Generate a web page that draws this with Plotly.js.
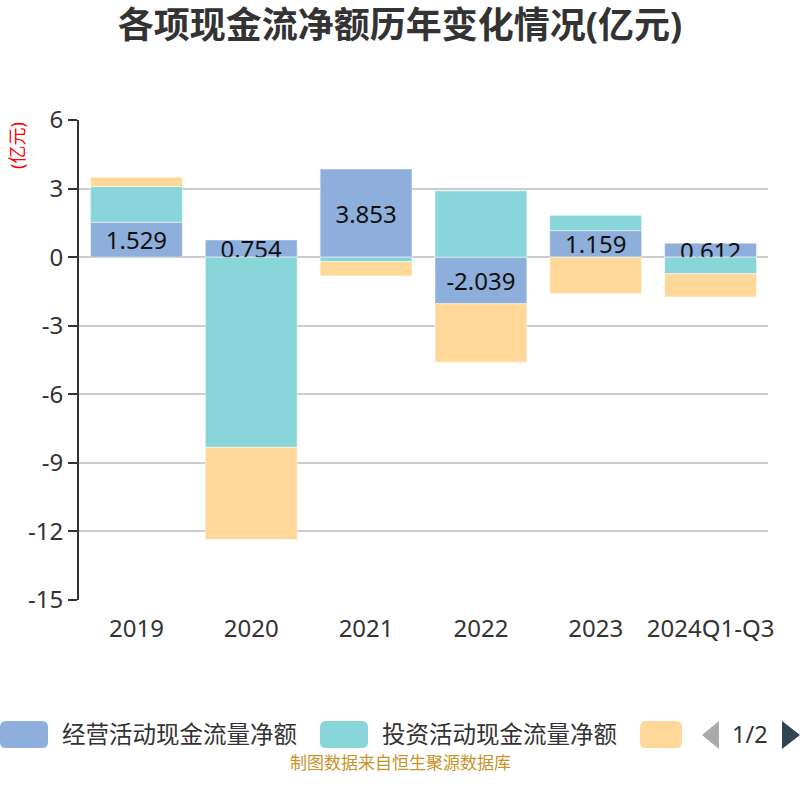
<!DOCTYPE html>
<html>
<head>
<meta charset="utf-8">
<script src="https://cdn.plot.ly/plotly-3.0.1.min.js"></script>
<style>
  html, body { margin: 0; padding: 0; background: #fff; }
  #chart { width: 800px; height: 800px; }
</style>
</head>
<body>
<div id="chart"></div>
<script>
// years on the x axis
let categories = ['2019', '2020', '2021', '2022', '2023', '2024Q1-Q3'];

// series names
let seriesNames = ['经营活动现金流量净额', '投资活动现金流量净额', '筹资活动现金流量净额'];

// net cash flow per year (亿元)
let operating = [1.529, 0.754, 3.853, -2.039, 1.159, 0.612];
let investing = [1.56, -8.32, -0.20, 2.90, 0.67, -0.73];
let financing = [0.41, -4.03, -0.62, -2.56, -1.59, -1.01];

// y axis ticks
let yTicks = [-15, -12, -9, -6, -3, 0, 3, 6];

let colors = ['#8eaedb', '#88d6d9', '#ffd899'];
let font = 'Noto Sans, Noto Sans CJK SC, sans-serif';

// plot area in pixels, used to place the hand drawn legend
let plotLeft = 79, plotRight = 768, plotTop = 120, plotBottom = 600;
function px(x) { return (x - plotLeft) / (plotRight - plotLeft); }
function py(y) { return (plotBottom - y) / (plotBottom - plotTop); }

// rounded rectangle path in paper coords, given pixel corners
function roundRect(x0, y0, x1, y1, r) {
    return 'M ' + px(x0 + r) + ' ' + py(y0) +
        ' L ' + px(x1 - r) + ' ' + py(y0) +
        ' Q ' + px(x1) + ' ' + py(y0) + ' ' + px(x1) + ' ' + py(y0 + r) +
        ' L ' + px(x1) + ' ' + py(y1 - r) +
        ' Q ' + px(x1) + ' ' + py(y1) + ' ' + px(x1 - r) + ' ' + py(y1) +
        ' L ' + px(x0 + r) + ' ' + py(y1) +
        ' Q ' + px(x0) + ' ' + py(y1) + ' ' + px(x0) + ' ' + py(y1 - r) +
        ' L ' + px(x0) + ' ' + py(y0 + r) +
        ' Q ' + px(x0) + ' ' + py(y0) + ' ' + px(x0 + r) + ' ' + py(y0) + ' Z';
}

let trace1 = {
    x: categories,
    y: operating,
    type: 'bar',
    name: seriesNames[0],
    marker: { color: colors[0], line: { color: '#ffffff', width: 0.5 } },
    text: operating.map(v => v.toFixed(3)),
    textposition: 'inside',
    insidetextanchor: 'middle',
    constraintext: 'none',
    textfont: { size: 24, color: '#111', family: font },
    hoverinfo: 'x+y+name'
};

let trace2 = {
    x: categories,
    y: investing,
    type: 'bar',
    name: seriesNames[1],
    marker: { color: colors[1], line: { color: '#ffffff', width: 0.5 } },
    hoverinfo: 'x+y+name'
};

let trace3 = {
    x: categories,
    y: financing,
    type: 'bar',
    name: seriesNames[2],
    marker: { color: colors[2], line: { color: '#ffffff', width: 0.5 } },
    hoverinfo: 'x+y+name'
};

var data = [trace1, trace2, trace3];

// legend drawn by hand: swatches + labels + pager, like the original (page 1 of 2)
let shapes = [];
let annotations = [];
let swatchX = [0, 320, 640];
let swatchW = [48, 48, 42];
for (let i = 0; i < 3; i++) {
    shapes.push({
        type: 'path', xref: 'paper', yref: 'paper',
        path: roundRect(swatchX[i], 721, swatchX[i] + swatchW[i], 748, 6),
        fillcolor: colors[i], line: { width: 0 }
    });
    if (i < 2) {
        annotations.push({
            xref: 'paper', yref: 'paper', x: px(swatchX[i] + 60), y: py(734),
            xanchor: 'left', yanchor: 'middle', showarrow: false,
            text: seriesNames[i], font: { size: 23.5, color: '#333', family: font }
        });
    }
}
// pager arrows
shapes.push({
    type: 'path', xref: 'paper', yref: 'paper',
    path: 'M ' + px(719) + ' ' + py(721) + ' L ' + px(702) + ' ' + py(735) + ' L ' + px(719) + ' ' + py(749) + ' Z',
    fillcolor: '#aaaaaa', line: { width: 0 }
});
shapes.push({
    type: 'path', xref: 'paper', yref: 'paper',
    path: 'M ' + px(782) + ' ' + py(721) + ' L ' + px(800) + ' ' + py(735) + ' L ' + px(782) + ' ' + py(749) + ' Z',
    fillcolor: '#2f4554', line: { width: 0 }
});
annotations.push({
    xref: 'paper', yref: 'paper', x: px(750), y: py(734),
    xanchor: 'center', yanchor: 'middle', showarrow: false,
    text: '1/2', font: { size: 23.5, color: '#333', family: font }
});
// unit label
annotations.push({
    xref: 'paper', yref: 'paper', x: px(17), y: py(146),
    xanchor: 'center', yanchor: 'middle', showarrow: false, textangle: -90,
    text: '(亿元)', font: { size: 18, color: '#ff0000', family: font }
});
// source note
annotations.push({
    xref: 'paper', yref: 'paper', x: px(400), y: py(762),
    xanchor: 'center', yanchor: 'middle', showarrow: false,
    text: '制图数据来自恒生聚源数据库', font: { size: 17, color: '#c8922a', family: font }
});

var layout = {
    width: 800,
    height: 800,
    margin: { l: plotLeft, r: 800 - plotRight, t: plotTop, b: 800 - plotBottom },
    paper_bgcolor: '#ffffff',
    plot_bgcolor: '#ffffff',
    font: { family: font, color: '#333' },
    title: {
        text: '<b>各项现金流净额历年变化情况(亿元)</b>',
        font: { size: 36, color: '#333', family: font },
        x: 0.5, xref: 'container', y: 1 - 25 / 800, yanchor: 'middle'
    },
    barmode: 'relative',
    bargap: 0.2,
    showlegend: false,
    xaxis: {
        type: 'category',
        showline: false,
        showgrid: false,
        ticks: '',
        ticklabelstandoff: 12,
        tickfont: { size: 24, color: '#333', family: font }
    },
    // second axis only to draw the category axis line with boundary ticks at y = 0
    xaxis2: {
        type: 'category',
        matches: 'x',
        overlaying: 'x',
        anchor: 'free',
        position: 15 / 21,
        showline: true,
        linecolor: '#333',
        linewidth: 2,
        ticks: 'outside',
        tickson: 'boundaries',
        ticklen: 8,
        tickwidth: 2,
        tickcolor: '#333',
        showticklabels: false,
        showgrid: false
    },
    yaxis: {
        range: [-15, 6],
        tickvals: yTicks,
        ticktext: yTicks.map(v => String(v)),
        showline: true,
        linecolor: '#333',
        linewidth: 2,
        ticks: 'outside',
        ticklen: 9,
        tickwidth: 2,
        tickcolor: '#333',
        gridcolor: '#cccccc',
        gridwidth: 2,
        zeroline: false,
        tickfont: { size: 24, color: '#333', family: font }
    },
    shapes: shapes,
    annotations: annotations
};

Plotly.newPlot('chart', data, layout, { displayModeBar: false });
</script>
</body>
</html>
